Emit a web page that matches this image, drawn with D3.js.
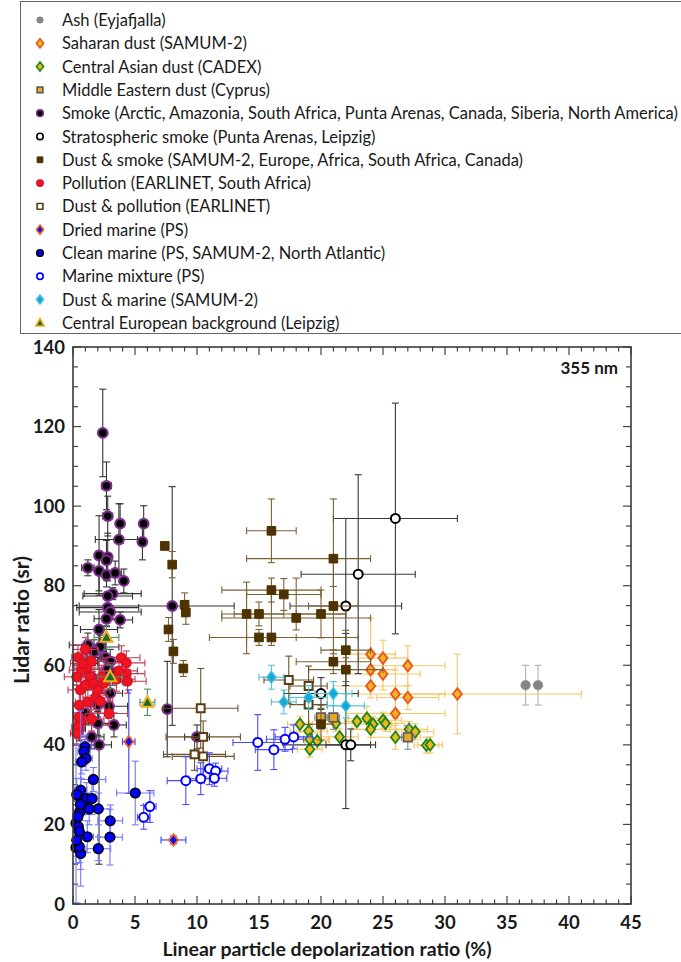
<!DOCTYPE html>
<html><head><meta charset="utf-8">
<script src="https://cdn.jsdelivr.net/npm/d3@7"></script>
<style>
body{margin:0;background:#fff}
svg{display:block}
text{font-family:Lato,"Open Sans",sans-serif;fill:#1a1a1a}
</style>
</head><body>
<svg id="chart" width="681" height="962"></svg>
<script>
// Each point: [depol %, lidar ratio sr, x error, y error]; an error may be a number or [minus, plus]
const ashPts = [[36.5,55,0,5],[37.5,55,0,5]];
const saharanPts = [[24,62.8,2,9],[25,61.8,2,4.5],[27,59.9,3,5],[24,58.9,2,4],[25,57.8,3,4],
  [24,54.8,3,3],[26,52.8,4,6],[27,51.9,2.5,3],[26,47.9,4,4],[31,52.8,[5,10],10]];
const centralAsianPts = [[18.3,45.2,1,2],[19,43.5,1.5,2],[19.1,41.4,1.5,2],[19.7,41,1,2],[19.1,38.9,1,2],
  [21.2,45.4,1.5,2],[21.5,42,1.5,2],[22.9,45.9,1,2],[23.7,46.7,1.5,3],[24.2,45.2,1.5,2],[24,43.9,1.5,2],
  [25,46.2,1.5,2],[25.2,45.4,1.5,2],[26,41.9,2,3],[27.1,43.9,1.5,2],[27.6,43.3,1.5,2],[28.5,39.9,1,2],[28.8,40,1,2]];
const middleEastPts = [[20,46.9,0.5,3],[21,46.9,0.5,3],[27,41.9,0.5,3]];
const smokePts = [[2.4,118.4,0,[11,11]],[2.7,105.1,0.4,6],[2.8,97.5,0.4,5],[3.8,95.6,0,5],[5.7,95.6,0,4.5],
  [3.7,91.6,[1.9,1.5],9],[5.6,91,0,4.5],[1.2,84.5,0.5,2],[2.1,87.6,0,10],[2.8,87.2,0,6],[2.7,86.4,0,5],
  [2.1,83.7,0,5],[2.7,82.7,0,3],[3.4,83.2,0.5,3],[4.1,81.2,0,3],[3.2,78,2.3,1.5],[2.8,77.4,2,1],
  [2.8,74.5,2.5,1],[3,73.4,2.5,1.5],[2.7,71.7,1,2],[3.8,71.4,1,2],[2.1,69,1.5,5],[8,74.9,[7.5,5],30],
  [1.2,65.1,1.5,3],[2.2,64.6,1.5,3],[1.7,63.4,1,3],[2.6,62,1.5,4],[3,61,1,3],[1,60.4,1,3],[2.8,59,1.5,3],
  [3.2,58,1,3],[1.5,57,1,3],[2.5,56,1.5,3],[3,53,1,4],[2,50,1,3],[2.9,49.7,1.5,3],[1,48,1,3],
  [2,45.4,1.5,3],[2.1,40,1,30],[0.5,44,0.5,3],[3.3,45,1,3],[1.5,42,1,3],[7.6,49,0,12],[10,42,1,3]];
const stratPts = [[26,96.9,[5,5],[29,29]],[23,82.9,[4.6,4.6],[25,25]],[22,74.9,[4.5,4.5],[20,22]],
  [20,52.9,3,4],[22,40,[5,2],[16,28]],[22.4,40,2,4]];
const dustSmokePts = [[7.4,90,0.3,1],[8,85.3,0,3.3],[9,75.2,0.3,3],[9.1,73.3,0.3,3],[7.7,69,0.3,3],
  [8.1,63.5,0.3,3],[8.9,59.2,0.3,2],[16,93.8,2,8],[21,86.8,[7,3],[7,15]],[16,78.9,4,3],[17,77.8,3,4],
  [14,72.9,[2,8],[10,8]],[15,72.9,2,3],[18,71.9,6,[3,10]],[20,72.9,2,6],[21,74.9,2,12],[15,67,[4,8],2],
  [16,67,2,[2,12]],[22,63.8,2,5],[21,60.9,3,3],[22,58.9,3,3],[20,45.2,1,4]];
const pollutionPts = [[3.9,61.9,1.5,3],[4.3,60.6,1.5,3],[4.3,57.9,1.5,3],[4.4,56,1.5,3],[3.7,58.6,1.5,3],
  [1.1,59.3,1,3],[0.7,58.8,1,3],[0.3,57.1,1,3],[1.4,57.1,1,3],[1.6,55.4,1,3],[0.6,53.8,1,3],[2,53.8,1,3],
  [1.2,50.8,1,3],[1.8,51.8,1,3],[2.2,51,1,3],[2.9,47.9,1.5,3],[0.6,45.8,0.5,3],[0.4,44.5,0.5,3],
  [0.3,42.9,0.5,3],[0.5,47,0.5,3],[1,55,1,3],[2.5,55.5,1,3],[1.5,61,1,3],[0.4,62,0.5,3],[0.8,60.5,1,3],
  [3.5,56.5,1.5,3],[2.3,57,1,3],[1,64,1,3],[0.5,50,0.5,3],[1.5,46.5,1,3]];
const dustPollutionPts = [[10.3,49.2,3,10],[10.5,42,3,4],[9.8,37.6,2.5,4],[10.5,37.1,2.5,5],
  [17.4,56.3,2,6],[19,54.8,1.5,5],[19,50.1,1.5,5]];
const driedMarinePts = [[4.5,40.8,0.5,13],[8.1,16.1,1,1]];
const cleanMarinePts = [[0.97,39.5,0.5,3],[0.89,38.3,0.5,3],[1.05,36.6,0.5,3],[0.7,35.7,0.5,3],
  [1.64,31.3,1,3],[0.62,28.6,0.5,3],[0.62,26.5,0.5,22],[1.1,26.5,0.5,4],[1.53,26.5,0.5,4],[0.56,23.2,0.5,4],
  [1.31,23.9,0.5,4],[2.04,23.9,1,4],[3,20.9,1,4],[2.98,16.8,1,7],[2.04,13.9,1,3],[0.24,20.3,0.3,20],
  [0.43,19.4,0.3,4],[0.51,18.2,0.3,4],[0.24,14.2,0.3,4],[0.62,12.7,0.3,4],[0.51,14.4,0.3,4],
  [1.15,16.9,0.5,4],[5.02,27.9,1.5,8],[0.3,16,0.3,4],[0.4,22,0.3,4],[0.6,25,0.3,4],[0.3,27.5,0.3,4]];
const marineMixPts = [[14.9,40.6,2,7],[16.2,38.8,1.5,5],[17.1,41.4,1.5,3],[17.8,42,1.5,3],[9.1,31,1.5,6],
  [10.3,31.5,1,4],[11,34,1,4],[11.5,33.4,1,2],[11.4,31.6,1,2],[6.2,24.5,0.5,4],[5.7,21.8,0.5,3]];
const dustMarinePts = [[16,57,1,3],[17,50.8,1,3],[19,51.9,1.5,3],[21,52.9,1.5,3],[22,49.8,1.5,3]];
const backgroundPts = [[2.7,67,1,3],[3,57.1,1,3],[6,50.7,0.6,3.3]];

const legendLabels = [
  "Ash (Eyjafjalla)",
  "Saharan dust (SAMUM-2)",
  "Central Asian dust (CADEX)",
  "Middle Eastern dust (Cyprus)",
  "Smoke (Arctic, Amazonia, South Africa, Punta Arenas, Canada, Siberia, North America)",
  "Stratospheric smoke (Punta Arenas, Leipzig)",
  "Dust & smoke (SAMUM-2, Europe, Africa, South Africa, Canada)",
  "Pollution (EARLINET, South Africa)",
  "Dust & pollution (EARLINET)",
  "Dried marine (PS)",
  "Clean marine (PS, SAMUM-2, North Atlantic)",
  "Marine mixture (PS)",
  "Dust & marine (SAMUM-2)",
  "Central European background (Leipzig)"
];
const xTicks = [0,5,10,15,20,25,30,35,40,45];
const yTicks = [0,20,40,60,80,100,120,140];

// marker styling per aerosol type (same order as the legend)
const series = [
  {pts: ashPts, shape:"circle", fill:"#858585", stroke:"#858585", sw:0.5, err:"#b0b0b0"},
  {pts: saharanPts, shape:"diamond", fill:"#f2b324", stroke:"#e8541c", sw:1.8, err:"#f7c667"},
  {pts: centralAsianPts, shape:"diamond", fill:"#f2b324", stroke:"#1a8a14", sw:1.8, err:"#f7c667"},
  {pts: middleEastPts, shape:"square", fill:"#e8a923", stroke:"#5a5a5a", sw:1.6, err:"#8a8a8a"},
  {pts: smokePts, shape:"circle", fill:"#000", stroke:"#7b2d8b", sw:2.2, err:"#333"},
  {pts: stratPts, shape:"ocircle", fill:"#fff", stroke:"#000", sw:2, err:"#3a3a3a"},
  {pts: dustSmokePts, shape:"square", fill:"#4e3300", stroke:"#4e3300", sw:1, err:"#7b6133"},
  {pts: pollutionPts, shape:"circle", fill:"#f0141e", stroke:"#d0102a", sw:1.2, err:"#c23c5a"},
  {pts: dustPollutionPts, shape:"osquare", fill:"#fff", stroke:"#5a3d10", sw:2, err:"#6e5328"},
  {pts: driedMarinePts, shape:"diamond", fill:"#1010ff", stroke:"#f0641e", sw:1.8, err:"#3a3aff"},
  {pts: cleanMarinePts, shape:"circle", fill:"#0000ff", stroke:"#000", sw:1.6, err:"#7777ff"},
  {pts: marineMixPts, shape:"ocircle", fill:"#fff", stroke:"#0000ff", sw:2, err:"#4a4aff"},
  {pts: dustMarinePts, shape:"diamond", fill:"#18a6d2", stroke:"#3cc0e2", sw:1.4, err:"#52c6d8"},
  {pts: backgroundPts, shape:"triangle", fill:"#1e6a2c", stroke:"#f0b020", sw:2, err:"#4e8a5e"}
];

const svg = d3.select("#chart");
const plot = {left:73, right:631, top:347, bottom:904};
const x = d3.scaleLinear().domain([0,45]).range([plot.left, plot.right]);
const y = d3.scaleLinear().domain([0,140]).range([plot.bottom, plot.top]);

function shapePath(shape, s) {
  switch (shape) {
    case "diamond": { const w = s*0.78, h = s; return `M0,${-h}L${w},0L0,${h}L${-w},0Z`; }
    case "square": case "osquare": { const a = s*0.8; return `M${-a},${-a}H${a}V${a}H${-a}Z`; }
    case "triangle": { const a = s*1.05; return `M0,${-a}L${a*0.95},${a*0.7}L${-a*0.95},${a*0.7}Z`; }
    default: return d3.arc()({innerRadius:0, outerRadius:s, startAngle:0, endAngle:2*Math.PI});
  }
}
const markerSize = {circle:4.8, ocircle:4.5, diamond:5.8, square:5.4, osquare:4.9, triangle:6};

// plot frame ticks (inward, on all four sides)
const frame = svg.append("g");
const tickColor = "#444";
d3.range(0, 46, 1).forEach(v => {
  const len = v % 5 === 0 ? 8 : 4.5;
  frame.append("line").attr("x1", x(v)).attr("x2", x(v)).attr("y1", plot.bottom).attr("y2", plot.bottom - len)
    .attr("stroke", tickColor).attr("stroke-width", 1.2);
  frame.append("line").attr("x1", x(v)).attr("x2", x(v)).attr("y1", plot.top).attr("y2", plot.top + len)
    .attr("stroke", tickColor).attr("stroke-width", 1.2);
});
d3.range(0, 141, 5).forEach(v => {
  const len = v % 20 === 0 ? 8 : 5;
  frame.append("line").attr("y1", y(v)).attr("y2", y(v)).attr("x1", plot.left).attr("x2", plot.left + len)
    .attr("stroke", tickColor).attr("stroke-width", 1.2);
  frame.append("line").attr("y1", y(v)).attr("y2", y(v)).attr("x1", plot.right).attr("x2", plot.right - len)
    .attr("stroke", tickColor).attr("stroke-width", 1.2);
});

// error bars and markers, one layer per aerosol type
const capHalf = 3.5;
function errPair(e) { return Array.isArray(e) ? e : [e, e]; }
series.forEach(s => {
  const g = svg.append("g");
  s.pts.forEach(p => {
    const [px, py] = [x(p[0]), y(p[1])];
    const [xm, xp] = errPair(p[2]);
    const [ym, yp] = errPair(p[3]);
    if (xm || xp) {
      const x0 = x(p[0] - xm), x1 = x(p[0] + xp);
      g.append("line").attr("x1", x0).attr("x2", x1).attr("y1", py).attr("y2", py);
      if (xm) g.append("line").attr("x1", x0).attr("x2", x0).attr("y1", py - capHalf).attr("y2", py + capHalf);
      if (xp) g.append("line").attr("x1", x1).attr("x2", x1).attr("y1", py - capHalf).attr("y2", py + capHalf);
    }
    if (ym || yp) {
      const y0 = y(p[1] - ym), y1 = y(p[1] + yp);
      g.append("line").attr("x1", px).attr("x2", px).attr("y1", y0).attr("y2", y1);
      if (ym) g.append("line").attr("x1", px - capHalf).attr("x2", px + capHalf).attr("y1", y0).attr("y2", y0);
      if (yp) g.append("line").attr("x1", px - capHalf).attr("x2", px + capHalf).attr("y1", y1).attr("y2", y1);
    }
  });
  g.selectAll("line").attr("stroke", s.err).attr("stroke-width", 1.1);
  g.selectAll("path.mk").data(s.pts).join("path").attr("class", "mk")
    .attr("transform", p => `translate(${x(p[0])},${y(p[1])})`)
    .attr("d", shapePath(s.shape, markerSize[s.shape]))
    .attr("fill", s.fill).attr("stroke", s.stroke).attr("stroke-width", s.sw);
});

// frame border
svg.append("rect").attr("x", plot.left).attr("y", plot.top)
  .attr("width", plot.right - plot.left).attr("height", plot.bottom - plot.top)
  .attr("fill", "none").attr("stroke", "#3a3a3a").attr("stroke-width", 1.6);

// tick labels
svg.append("g").selectAll("text").data(xTicks).join("text")
  .attr("x", d => x(d)).attr("y", 929).attr("text-anchor", "middle")
  .attr("font-size", 18.5).attr("font-weight", 700).text(d => d);
svg.append("g").selectAll("text").data(yTicks).join("text")
  .attr("x", 65).attr("y", d => y(d) + 6.5).attr("text-anchor", "end")
  .attr("font-size", 18.5).attr("font-weight", 700).text(d => d);

// axis titles
svg.append("text").attr("x", 327).attr("y", 956).attr("text-anchor", "middle")
  .attr("font-size", 19.5).attr("font-weight", 700).text("Linear particle depolarization ratio (%)");
svg.append("text").attr("transform", "translate(29,620) rotate(-90)").attr("text-anchor", "middle")
  .attr("font-size", 21).attr("font-weight", 700).text("Lidar ratio (sr)");
svg.append("text").attr("x", 618).attr("y", 374).attr("text-anchor", "end")
  .attr("font-size", 17).attr("font-weight", 700).text("355 nm");

// legend
const lg = svg.append("g");
lg.append("rect").attr("x", 20.5).attr("y", 1.5).attr("width", 690).attr("height", 332)
  .attr("fill", "#fff").attr("stroke", "#666").attr("stroke-width", 1);
const legendSize = {circle:3.3, ocircle:3.2, diamond:4.6, square:3.6, osquare:3.6, triangle:4.2};
legendLabels.forEach((label, i) => {
  const s = series[i];
  const cy = 20 + i * 23.3;
  lg.append("path").attr("transform", `translate(40,${cy})`)
    .attr("d", shapePath(s.shape, legendSize[s.shape]))
    .attr("fill", s.fill).attr("stroke", s.stroke).attr("stroke-width", Math.min(s.sw, 1.6));
  lg.append("text").attr("x", 62).attr("y", cy + 6).attr("font-size", 16.5).text(label);
});
</script>
</body></html>
